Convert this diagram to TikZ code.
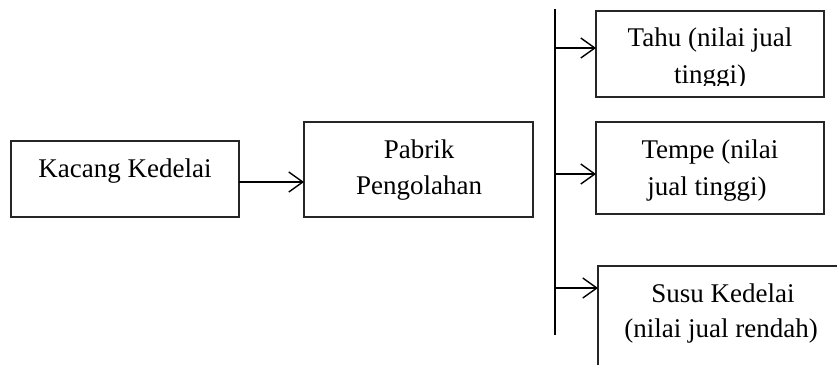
\documentclass[tikz,border=0pt]{standalone}
\usepackage{fontspec}
\setmainfont{Liberation Serif}
\usetikzlibrary{arrows.meta}
\begin{document}
\begin{tikzpicture}[x=1bp,y=-1bp,
  box/.style={draw=black!85, line width=1.3bp, inner sep=0pt, outer sep=0pt},
  openbox/.style={inner sep=0pt, outer sep=0pt},
  edge/.style={draw=black!85, line width=1.3bp},
  txt/.style={font=\fontsize{27bp}{34bp}\selectfont, anchor=base, inner sep=0pt},
  arr/.style={line width=1.4bp, -{Straight Barb[length=14bp,width=20bp,line width=1.4bp]}},
  trunk/.style={line width=1.4bp}]
  \useasboundingbox (0,0) rectangle (837,365);

  % boxes
  \node[box, minimum width=228bp, minimum height=76bp] (kacang) at (125,179) {};
  \node[box, minimum width=229bp, minimum height=95bp] (pabrik) at (418.5,169.5) {};
  \node[box, minimum width=228bp, minimum height=86bp] (tahu) at (710,54) {};
  \node[box, minimum width=228bp, minimum height=92bp] (tempe) at (710,168) {};
  % the last box runs past the page: only its left and top sides show
  \coordinate (sw) at (598,365);
  \coordinate (ne) at (837,266);
  \node[openbox, minimum width=239bp, minimum height=99bp] (susu) at (717.5,315.5) {};
  \draw[edge] (sw) |- (ne);

  % labels
  \node[txt] (tk) at (125,177) {Kacang Kedelai};
  \node[txt] (tp1) at (419,158) {Pabrik};
  \node[txt] (tp2) at (419,194) {Pengolahan};
  \begin{scope}
    \clip (596,11) rectangle (824,85);
    \node[txt] (tt1) at (710,46) {Tahu (nilai jual};
    \node[txt] (tt2) at (710,83) {tinggi)};
  \end{scope}
  \node[txt] (te1) at (710,158) {Tempe (nilai};
  \node[txt] (te2) at (707,195) {jual tinggi)};
  \node[txt] (ts1) at (723,302) {Susu Kedelai};
  \node[txt] (ts2) at (721,337) {(nilai jual rendah)};

  % connectors
  \coordinate (m) at (239,182);
  \draw[arr] (kacang.east |- m) -- (pabrik.west |- m);

  \coordinate (ttop) at (555,9);
  \coordinate (tbot) at (555,335);
  \draw[trunk] (ttop) -- (tbot);

  \coordinate (b1) at (555,48);
  \coordinate (b2) at (555,174);
  \coordinate (b3) at (555,288);
  \draw[arr] (b1) -- (tahu.west |- b1);
  \draw[arr] (b2) -- (tempe.west |- b2);
  \draw[arr] (b3) -- (susu.west |- b3);
\end{tikzpicture}
\end{document}
